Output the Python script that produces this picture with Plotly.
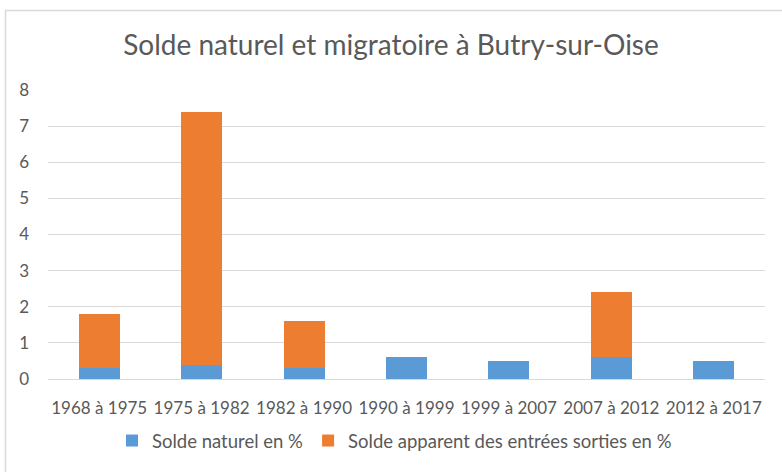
import plotly.graph_objects as go

categories = ["1968 à 1975", "1975 à 1982", "1982 à 1990", "1990 à 1999",
              "1999 à 2007", "2007 à 2012", "2012 à 2017"]
solde_naturel = [0.3, 0.4, 0.3, 0.6, 0.5, 0.6, 0.5]
solde_migratoire = [1.5, 7.0, 1.3, 0.0, 0.0, 1.8, 0.0]
y_ticks = [0, 1, 2, 3, 4, 5, 6, 7, 8]

FONT = "Lato, Carlito, Calibri, sans-serif"
GRAY = "#595959"

fig = go.Figure()
fig.add_trace(go.Bar(x=categories, y=solde_naturel, name="Solde naturel en %",
                     marker=dict(color="#5b9bd5", line=dict(width=0))))
fig.add_trace(go.Bar(x=categories, y=solde_migratoire,
                     name="Solde apparent des entrées sorties en %",
                     marker=dict(color="#ed7d31", line=dict(width=0))))

W, H = 782, 472
ml, mr, mt, mb = 48, 17, 90, 93
pw, ph = W - ml - mr, H - mt - mb

def px_x(p):
    return (p - ml) / pw

def px_y(p):
    return (H - mb - p) / ph

fig.update_layout(
    width=W, height=H,
    barmode="stack", bargap=0.6,
    plot_bgcolor="white", paper_bgcolor="white",
    margin=dict(l=ml, r=mr, t=mt, b=mb, autoexpand=False),
    font=dict(family=FONT, color=GRAY, size=17),
    title=dict(text="Solde naturel et migratoire à Butry-sur-Oise",
               x=0.5, xanchor="center", y=1 - 45 / H, yanchor="middle",
               font=dict(family=FONT, size=28, color=GRAY)),
    xaxis=dict(showgrid=False, showline=False, ticks="", automargin=False,
               tickfont=dict(size=17, color=GRAY), ticklabelstandoff=17),
    yaxis=dict(range=[0, 8], tickvals=y_ticks, showgrid=True, automargin=False,
               gridcolor="#d9d9d9", gridwidth=1, zeroline=True,
               zerolinecolor="#d9d9d9", zerolinewidth=1,
               tickfont=dict(size=17, color=GRAY), ticklabelstandoff=18),
    legend=dict(orientation="h", x=px_x(112), xanchor="left",
                y=px_y(441), yanchor="middle",
                font=dict(size=18.5, color=GRAY), itemwidth=30,
                traceorder="normal"),
    shapes=[dict(type="rect", xref="paper", yref="paper",
                 x0=px_x(5.5), x1=px_x(790), y0=px_y(480), y1=px_y(10.5),
                 line=dict(color="#d9d9d9", width=1.5), layer="below")],
    showlegend=True,
)

fig.write_html("out.html", config={"displayModeBar": False},
               post_script="document.body.style.margin='0';")
